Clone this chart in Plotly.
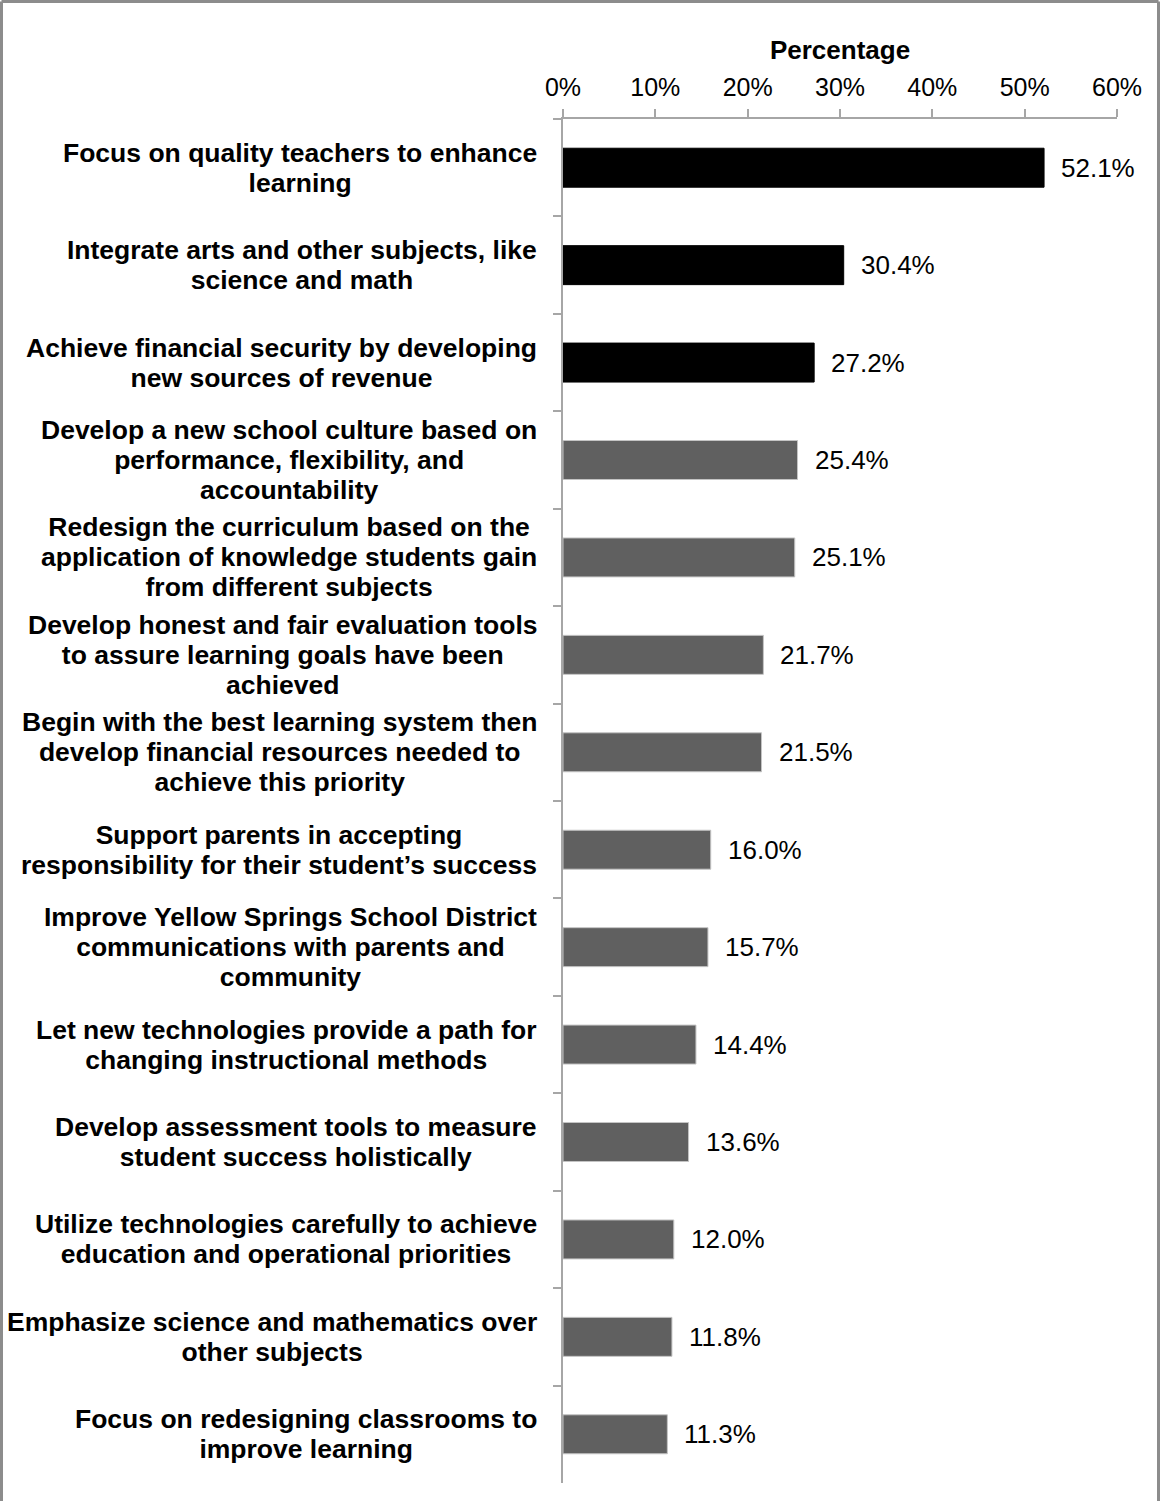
import plotly.graph_objects as go

categories = [
    "Focus on quality teachers to enhance<br>learning",
    "Integrate arts and other subjects, like<br>science and math",
    "Achieve financial security by developing<br>new sources of revenue",
    "Develop a new school culture based on<br>performance, flexibility, and<br>accountability",
    "Redesign the curriculum based on the<br>application of knowledge students gain<br>from different subjects",
    "Develop honest and fair evaluation tools<br>to assure learning goals have been<br>achieved",
    "Begin with the best learning system then<br>develop financial resources needed to<br>achieve this priority",
    "Support parents in accepting<br>responsibility for their student\u2019s success",
    "Improve Yellow Springs School District<br>communications with parents and<br>community",
    "Let new technologies provide a path for<br>changing instructional methods",
    "Develop assessment tools to measure<br>student success holistically",
    "Utilize technologies carefully to achieve<br>education and operational priorities",
    "Emphasize science and mathematics over<br>other subjects",
    "Focus on redesigning classrooms to<br>improve learning",
]
values = [52.1, 30.4, 27.2, 25.4, 25.1, 21.7, 21.5, 16.0, 15.7, 14.4, 13.6, 12.0, 11.8, 11.3]
x_ticks = [0, 10, 20, 30, 40, 50, 60]
x_title = "Percentage"

FONT = "Liberation Sans, Arial, sans-serif"
n_top = 3
bar_colors = ["#000000" if i < n_top else "#606060" for i in range(len(values))]
line_colors = ["#000000" if i < n_top else "#c4c4c4" for i in range(len(values))]
axis_gray = "#a6a6a6"

fig = go.Figure()
fig.add_trace(go.Bar(
    x=values, y=categories, orientation="h",
    marker=dict(color=bar_colors, line=dict(color=line_colors, width=1)),
    hoverinfo="skip",
))

annotations = []
for cat, v in zip(categories, values):
    annotations.append(dict(
        x=v, y=cat, xref="x", yref="y", text=f"{v:.1f}%",
        showarrow=False, xanchor="left", yanchor="middle", xshift=15,
        font=dict(family=FONT, size=26, color="#000000"),
    ))
    lab = "<br>".join(f'<span style="font-size:26.5px">{ln}</span>' for ln in cat.split("<br>"))
    annotations.append(dict(
        x=0, y=cat, xref="paper", yref="y", text=f"<b>{lab}</b>",
        showarrow=False, xanchor="right", yanchor="middle", xshift=-24,
        align="center",
        font=dict(family=FONT, size=23.2, color="#000000"),
    ))

# outer frame
W, H = 1160, 1501
ml, mr, mt, mb = 563, 43, 119, 18
pw, ph = W - ml - mr, H - mt - mb
def px(xp): return (xp - ml) / pw
def py(yp): return (H - mb - yp) / ph

shapes = [
    dict(type="line", xref="paper", yref="paper", x0=px(1.5), x1=px(1.5), y0=py(1510), y1=py(1.5),
         line=dict(color="#8c8c8c", width=3)),
    dict(type="line", xref="paper", yref="paper", x0=px(1.5), x1=px(1158.5), y0=py(1.5), y1=py(1.5),
         line=dict(color="#8c8c8c", width=3)),
    dict(type="line", xref="paper", yref="paper", x0=px(1158.5), x1=px(1158.5), y0=py(1510), y1=py(1.5),
         line=dict(color="#8c8c8c", width=3)),
]

fig.update_layout(
    width=W, height=H,
    margin=dict(l=ml, r=mr, t=mt, b=mb, pad=0),
    paper_bgcolor="white", plot_bgcolor="white",
    showlegend=False, bargap=0.6,
    font=dict(family=FONT, color="#000000"),
    annotations=annotations, shapes=shapes,
    xaxis=dict(
        side="top", range=[0, 60], tickvals=x_ticks, ticktext=[f"{t}%" for t in x_ticks],
        showgrid=False, zeroline=False, showline=True, linecolor=axis_gray, linewidth=1.5,
        ticks="outside", ticklen=8, tickwidth=1.5, tickcolor=axis_gray, ticklabelstandoff=3,
        tickfont=dict(family=FONT, size=25, color="#000000"),
        title=dict(text=f"<b>{x_title}</b>", font=dict(family=FONT, size=26, color="#000000"), standoff=6),
    ),
    yaxis=dict(
        type="category", categoryorder="array", categoryarray=categories, autorange="reversed",
        showgrid=False, zeroline=False, showline=True, linecolor=axis_gray, linewidth=1.5,
        ticks="outside", ticklen=8, tickwidth=1.5, tickcolor=axis_gray, tickson="boundaries",
        showticklabels=False,
    ),
)

fig.write_html("out.html")
